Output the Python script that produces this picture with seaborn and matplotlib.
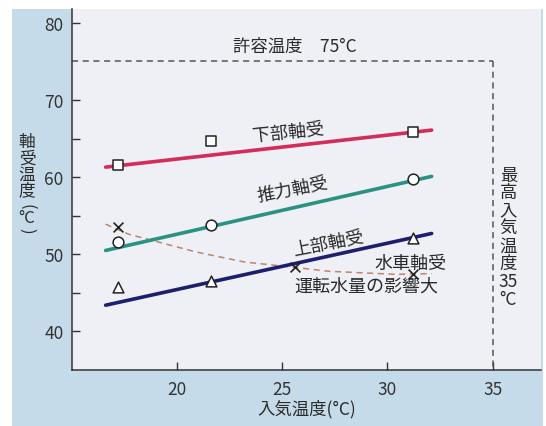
import matplotlib
matplotlib.use("Agg")
import matplotlib.pyplot as plt
import seaborn as sns
import pandas as pd
from matplotlib.patches import Rectangle

# observed points (markers)
x_obs = [17.2, 21.6, 31.2]
lower_obs = [61.6, 64.7, 65.8]
thrust_obs = [51.6, 53.8, 59.7]
upper_obs = [45.8, 46.5, 52.1]
turbine_x = [17.2, 25.6, 31.2]
turbine_obs = [53.6, 48.4, 47.4]

# fitted lines
x_fit = [16.6, 32.1]
lower_fit = [61.3, 66.1]
thrust_fit = [50.5, 60.1]
upper_fit = [43.4, 52.7]
turbine_curve_x = [16.6, 17.7, 20.9, 23.2, 25.6, 27.2, 30.4, 32.1]
turbine_curve_y = [53.9, 52.6, 50.3, 49.0, 48.3, 47.8, 47.4, 47.5]

limit_temp = 75
max_inlet = 35

sns.set_theme(style="white")
plt.rcParams['font.family'] = ['Noto Sans CJK JP', 'DejaVu Sans']
plt.rcParams['axes.unicode_minus'] = False

fig = plt.figure(figsize=(5.46, 4.27), dpi=100)
fig.patch.set_facecolor('white')
fig.patches.append(Rectangle((12 / 546, 0), 531 / 546, 1 - 10 / 427,
                             transform=fig.transFigure, facecolor='#c6dbea',
                             edgecolor='none', zorder=-10))
ax = fig.add_axes([72 / 546, 1 - 371 / 427, 469 / 546, 361 / 427])
ax.set_zorder(1)
ax.set_facecolor('#eef0f5')

# fitted lines
fits = pd.DataFrame({'x': x_fit * 3,
                     'y': lower_fit + thrust_fit + upper_fit,
                     'series': ['下部軸受'] * 2 + ['推力軸受'] * 2 + ['上部軸受'] * 2})
sns.lineplot(data=fits, x='x', y='y', hue='series', ax=ax, legend=False,
             palette={'下部軸受': '#d42c5c', '推力軸受': '#2a9283', '上部軸受': '#1d1f6e'},
             linewidth=2.6, zorder=3)
sns.lineplot(x=turbine_curve_x, y=turbine_curve_y, ax=ax, color='#c08468',
             linewidth=1.1, linestyle=(0, (4, 3)), zorder=2)

# observed markers
mk = dict(s=60, facecolor='white', edgecolor='#222222', linewidth=1.1, zorder=5, ax=ax)
sns.scatterplot(x=x_obs, y=lower_obs, marker='s', **mk)
sns.scatterplot(x=x_obs, y=thrust_obs, marker='o', **mk)
sns.scatterplot(x=x_obs, y=upper_obs, marker='^', **mk)
sns.scatterplot(x=turbine_x, y=turbine_obs, marker='x', s=50, color='#222222',
                linewidth=1.2, zorder=5, ax=ax)

# limit lines
ax.plot([15, max_inlet], [limit_temp, limit_temp], color='#555555',
        linewidth=1.1, linestyle=(0, (4, 3)), zorder=1)
ax.plot([max_inlet, max_inlet], [limit_temp, 35], color='#555555',
        linewidth=1.1, linestyle=(0, (4, 3)), zorder=1)

tc = '#2a2a2a'
fs = 13
ax.text(25.6, 77.0, '許容温度　75°C', ha='center', va='center', fontsize=12.5, color=tc)
ax.text(25.3, 65.8, '下部軸受', ha='center', va='center', fontsize=fs, color=tc, rotation=6)
ax.text(25.5, 58.5, '推力軸受', ha='center', va='center', fontsize=fs, color=tc, rotation=11)
ax.text(27.2, 51.5, '上部軸受', ha='center', va='center', fontsize=fs, color=tc, rotation=11)
ax.text(31.1, 48.9, '水車軸受', ha='center', va='center', fontsize=fs, color=tc)
ax.text(29.0, 46.0, '運転水量の影響大', ha='center', va='center', fontsize=fs, color=tc)
ax.text(35.75, 52.3, '最\n高\n入\n気\n温\n度\n35\n°C', ha='center', va='center',
        fontsize=12.5, color=tc, linespacing=0.98)

# vertical y label: one glyph per row, parentheses turned sideways
ylabel_rows = [('軸', 142, 0), ('受', 159, 0), ('温', 175, 0), ('度', 191, 0),
               ('(', 207, 270), ('°C', 219, 0), (')', 231, 270)]
for ch, ypx, rot in ylabel_rows:
    fig.text(27 / 546, 1 - ypx / 427, ch, ha='center', va='center', rotation=rot,
             rotation_mode='anchor', fontsize=12, color=tc)

ax.set_xlim(15, 37.3)
ax.set_ylim(35, 81.8)
ax.set_xticks([20, 25, 30, 35])
ax.set_yticks([40, 50, 60, 70, 80])
ax.set_yticks([45, 55, 65], minor=True)
ax.set_xlabel('入気温度(°C)', fontsize=12.5, color=tc, labelpad=1)
ax.set_ylabel('')
ax.tick_params(axis='both', which='both', direction='in', length=6, width=1,
               color='#333333', labelsize=12.5, labelcolor='#333333')
ax.tick_params(axis='y', which='both', left=True, pad=6)
ax.tick_params(axis='x', which='both', bottom=True, pad=7)
for side in ['top', 'right']:
    ax.spines[side].set_visible(False)
for side in ['left', 'bottom']:
    ax.spines[side].set_color('#333333')
    ax.spines[side].set_linewidth(1.1)

fig.savefig('out.png', dpi=100)
